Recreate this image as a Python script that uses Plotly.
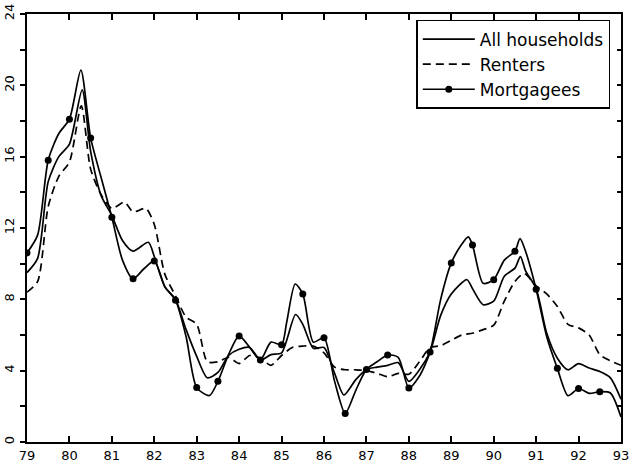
import plotly.graph_objects as go

# ---- data ----
all_x = [79.0, 79.25, 79.5, 79.75, 80.0, 80.3, 80.5, 80.75, 81.0, 81.25, 81.5, 81.86, 82.0, 82.25,
         82.5, 82.75, 83.0, 83.25, 83.5, 83.75, 84.0, 84.25, 84.5, 84.75, 85.0, 85.33, 85.5, 85.75,
         86.0, 86.25, 86.47, 86.75, 87.0, 87.25, 87.5, 87.75, 88.0, 88.25, 88.5, 88.75, 89.0, 89.37,
         89.5, 89.75, 90.0, 90.25, 90.5, 90.63, 90.75, 91.0, 91.25, 91.5, 91.75, 92.0, 92.25, 92.5,
         92.75, 93.0]
all_y = [9.5, 10.3, 14.6, 16.0, 16.7, 19.75, 16.3, 13.8, 12.7, 11.3, 10.7, 11.2, 10.4, 8.7,
         8.0, 6.3, 4.8, 3.6, 3.9, 4.85, 5.2, 5.3, 4.6, 4.9, 5.0, 7.15, 6.6, 5.25,
         5.3, 3.85, 2.64, 3.5, 4.07, 4.2, 4.3, 4.45, 3.4, 4.05, 5.05, 7.1, 8.3, 9.1,
         8.6, 7.7, 7.9, 9.3, 9.75, 10.4, 9.6, 8.6, 6.1, 4.7, 4.05, 4.4, 4.15, 3.95,
         3.6, 2.4]

rent_x = [79.0, 79.25, 79.5, 79.75, 80.0, 80.28, 80.5, 80.75, 81.0, 81.3, 81.5, 81.8, 82.0, 82.25,
          82.5, 82.75, 83.0, 83.25, 83.5, 83.75, 84.0, 84.25, 84.5, 84.75, 85.0, 85.25, 85.5, 85.75,
          86.0, 86.25, 86.5, 86.75, 87.0, 87.25, 87.5, 87.75, 88.0, 88.25, 88.5, 88.75, 89.0, 89.25,
          89.5, 89.75, 90.0, 90.25, 90.5, 90.72, 91.0, 91.25, 91.5, 91.75, 92.0, 92.25, 92.5, 92.75,
          93.0]
rent_y = [8.4, 9.0, 13.2, 14.9, 15.7, 18.85, 15.3, 13.85, 13.1, 13.45, 12.9, 13.1, 12.2, 9.4,
          8.2, 7.0, 6.6, 4.5, 4.5, 4.75, 4.4, 4.85, 4.7, 4.3, 4.85, 5.3, 5.38, 5.38,
          5.0, 4.2, 4.05, 4.05, 4.0, 3.85, 3.66, 3.85, 3.8, 4.5, 5.3, 5.4, 5.7, 6.0,
          6.1, 6.3, 6.55, 7.9, 9.0, 9.45, 8.75, 8.3, 7.6, 6.6, 6.4, 6.0, 4.9, 4.55,
          4.3]

mort_x = [79.0, 79.25, 79.5, 79.75, 80.0, 80.27, 80.5, 80.75, 81.0, 81.25, 81.5, 81.75, 82.0, 82.25,
          82.5, 82.75, 83.0, 83.3, 83.5, 83.75, 84.0, 84.25, 84.5, 84.75, 85.0, 85.12, 85.32, 85.5,
          85.75, 86.0, 86.25, 86.5, 86.75, 87.0, 87.25, 87.5, 87.75, 88.0, 88.25, 88.5, 88.75, 89.0,
          89.25, 89.4, 89.5, 89.75, 90.0, 90.25, 90.5, 90.62, 90.75, 91.0, 91.25, 91.5, 91.75, 92.0,
          92.25, 92.5, 92.75, 93.0]
mort_y = [10.6, 11.6, 15.8, 17.3, 18.1, 20.85, 17.05, 14.8, 12.6, 10.2, 9.15, 9.7, 10.15, 8.7,
          7.95, 5.9, 3.05, 2.6, 3.4, 4.9, 5.95, 5.3, 4.6, 5.6, 5.45, 6.7, 8.86, 8.3,
          5.6, 5.85, 3.4, 1.6, 2.9, 4.07, 4.5, 4.88, 4.75, 3.03, 3.7, 5.05, 8.0, 10.04,
          11.1, 11.5, 11.05, 8.9, 9.1, 10.2, 10.7, 11.4, 10.7, 8.56, 5.9, 4.13, 2.6, 3.0,
          2.73, 2.82, 2.75, 1.4]

mark_years = [79.0 + 0.5 * i for i in range(28)]

x_ticks = list(range(79, 94))
x_labels = [str(v) for v in x_ticks]
y_ticks = [0, 4, 8, 12, 16, 20, 24]

# marker points of the mortgagee series (half-year observations)
mk_x = [x for x in mort_x if x in mark_years]
mk_y = [y for x, y in zip(mort_x, mort_y) if x in mark_years]

FONT = "DejaVu Sans"
LW = 1.7

fig = go.Figure()
fig.add_trace(go.Scatter(x=all_x, y=all_y, mode="lines", name="All households",
                         line=dict(color="black", width=LW, shape="spline", smoothing=0.7)))
fig.add_trace(go.Scatter(x=rent_x, y=rent_y, mode="lines", name="Renters",
                         line=dict(color="black", width=LW, dash="8px,5px", shape="spline", smoothing=0.7)))
fig.add_trace(go.Scatter(x=mort_x, y=mort_y, mode="lines", showlegend=False,
                         line=dict(color="black", width=LW, shape="spline", smoothing=0.7)))
fig.add_trace(go.Scatter(x=mk_x, y=mk_y, mode="markers", showlegend=False,
                         marker=dict(color="black", size=7)))
fig.add_trace(go.Scatter(x=[None], y=[None], mode="lines+markers", name="Mortgagees",
                         line=dict(color="black", width=LW), marker=dict(color="black", size=7)))
# invisible trace to carry the right-hand tick axis
fig.add_trace(go.Scatter(x=[None], y=[None], yaxis="y2", showlegend=False, hoverinfo="skip"))

fig.update_layout(
    width=631, height=466,
    margin=dict(l=27, r=10, t=14, b=24, autoexpand=False),
    paper_bgcolor="white", plot_bgcolor="white",
    font=dict(family=FONT, color="black", size=13),
    showlegend=True,
    legend=dict(x=0.982, y=0.986, xanchor="right", yanchor="top",
                bordercolor="black", borderwidth=1.5, bgcolor="white",
                font=dict(family=FONT, size=17, color="black"),
                itemwidth=52, tracegroupgap=0),
    xaxis=dict(range=[79, 93], tickvals=x_ticks, ticktext=x_labels, automargin=False,
               ticks="inside", ticklen=6, tickwidth=1.5, tickcolor="black",
               showline=True, linecolor="black", linewidth=2, mirror="ticks",
               showgrid=False, zeroline=False, tickfont=dict(size=13, family=FONT)),
    yaxis=dict(range=[0, 24], tickvals=y_ticks, tickangle=-90, automargin=False,
               ticks="outside", ticklen=5, tickwidth=1.5, tickcolor="black",
               minor=dict(dtick=2, ticks="outside", ticklen=5, tickwidth=1.5, tickcolor="black"),
               showline=True, linecolor="black", linewidth=2, mirror=True,
               showgrid=False, zeroline=False, tickfont=dict(size=13, family=FONT),
               ticklabelstandoff=1),
    yaxis2=dict(range=[0, 24], overlaying="y", side="right", dtick=2, automargin=False,
                ticks="inside", ticklen=4, tickwidth=1.5, tickcolor="black",
                showticklabels=False, showline=False, showgrid=False, zeroline=False),
)

fig.write_html("out.html", config={"displayModeBar": False},
               post_script="document.body.style.margin='0';document.body.style.overflow='hidden';")
